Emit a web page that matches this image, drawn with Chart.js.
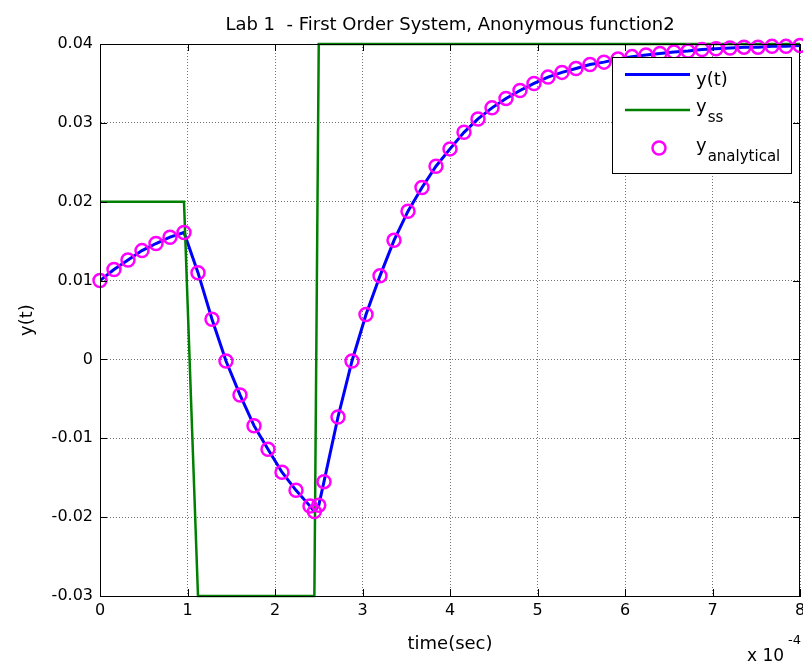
<!DOCTYPE html>
<html>
<head>
<meta charset="utf-8">
<title>Lab 1 - First Order System</title>
<script src="https://cdn.jsdelivr.net/npm/chart.js@4.4.1/dist/chart.umd.min.js"></script>
<style>
  html, body { margin: 0; padding: 0; background: #fff; overflow: hidden; }
  #wrap { width: 803px; height: 663px; overflow: hidden; }
  #inner { width: 840px; height: 663px; }
</style>
</head>
<body>
<div id="wrap"><div id="inner"><canvas id="chart" width="803" height="663"></canvas></div></div>
<script>
// time in units of 1e-4 s (axis shows "x 10^-4")
const timeVals = [0, 0.16, 0.32, 0.48, 0.64, 0.80, 0.96, 1.12, 1.28, 1.44,
    1.60, 1.76, 1.92, 2.08, 2.24, 2.40, 2.45, 2.50, 2.56, 2.72,
    2.88, 3.04, 3.20, 3.36, 3.52, 3.68, 3.84, 4.00, 4.16, 4.32,
    4.48, 4.64, 4.80, 4.96, 5.12, 5.28, 5.44, 5.60, 5.76, 5.92,
    6.08, 6.24, 6.40, 6.56, 6.72, 6.88, 7.04, 7.20, 7.36, 7.52,
    7.68, 7.84, 8.00];

// simulated output y(t)
const yOut = [0.0100, 0.0114, 0.0126, 0.0138, 0.0147, 0.0155, 0.0161, 0.0110, 0.0051, -0.0002,
    -0.0045, -0.0084, -0.0114, -0.0143, -0.0166, -0.0186, -0.0193, -0.0185, -0.0155, -0.0073,
    -0.0002, 0.0057, 0.0106, 0.0151, 0.0188, 0.0218, 0.0245, 0.0267, 0.0288, 0.0305,
    0.0319, 0.0331, 0.0341, 0.0350, 0.0358, 0.0364, 0.0369, 0.0374, 0.0377, 0.0381,
    0.0384, 0.0386, 0.0388, 0.0390, 0.0391, 0.0393, 0.0394, 0.0395, 0.0396, 0.0396,
    0.0397, 0.0397, 0.0398];

// analytical solution (circles), sits on top of y(t)
const yAnalytical = [0.0100, 0.0114, 0.0126, 0.0138, 0.0147, 0.0155, 0.0161, 0.0110, 0.0051, -0.0002,
    -0.0045, -0.0084, -0.0114, -0.0143, -0.0166, -0.0186, -0.0193, -0.0185, -0.0155, -0.0073,
    -0.0002, 0.0057, 0.0106, 0.0151, 0.0188, 0.0218, 0.0245, 0.0267, 0.0288, 0.0305,
    0.0319, 0.0331, 0.0341, 0.0350, 0.0358, 0.0364, 0.0369, 0.0374, 0.0377, 0.0381,
    0.0384, 0.0386, 0.0388, 0.0390, 0.0391, 0.0393, 0.0394, 0.0395, 0.0396, 0.0396,
    0.0397, 0.0397, 0.0398];

// steady state input y_ss
const ySS = [0.02, 0.02, 0.02, 0.02, 0.02, 0.02, 0.02, -0.03, -0.03, -0.03,
    -0.03, -0.03, -0.03, -0.03, -0.03, -0.03, -0.03, 0.04, 0.04, 0.04,
    0.04, 0.04, 0.04, 0.04, 0.04, 0.04, 0.04, 0.04, 0.04, 0.04,
    0.04, 0.04, 0.04, 0.04, 0.04, 0.04, 0.04, 0.04, 0.04, 0.04,
    0.04, 0.04, 0.04, 0.04, 0.04, 0.04, 0.04, 0.04, 0.04, 0.04,
    0.04, 0.04, 0.04];

const xTicks = [0, 1, 2, 3, 4, 5, 6, 7, 8];
const xTickLabels = ['0', '1', '2', '3', '4', '5', '6', '7', '8'];
const yTicks = [-0.03, -0.02, -0.01, 0, 0.01, 0.02, 0.03, 0.04];
const yTickLabels = ['-0.03', '-0.02', '-0.01', '0', '0.01', '0.02', '0.03', '0.04'];

const FONT = '"DejaVu Sans", "Liberation Sans", Arial, sans-serif';
const BLUE = '#0000ff';
const GREEN = '#008000';
const MAGENTA = '#ff00ff';

function toPoints(xs, ys) {
    return xs.map((t, i) => ({ x: t, y: ys[i] }));
}

// box, inward ticks, title, labels and legend (matlab look)
const decorPlugin = {
    id: 'decor',
    afterDraw(chart) {
        const { ctx, chartArea: a, scales: { x, y } } = chart;
        ctx.save();

        // axes box
        ctx.strokeStyle = '#000';
        ctx.lineWidth = 1;
        ctx.strokeRect(a.left + 0.5, a.top + 0.5, a.right - a.left - 1, a.bottom - a.top);

        // ticks pointing inside
        ctx.beginPath();
        xTicks.forEach(v => {
            const px = Math.round(x.getPixelForValue(v)) + 0.5;
            ctx.moveTo(px, a.bottom); ctx.lineTo(px, a.bottom - 7);
            ctx.moveTo(px, a.top); ctx.lineTo(px, a.top + 7);
        });
        yTicks.forEach(v => {
            const py = Math.round(y.getPixelForValue(v)) + 0.5;
            ctx.moveTo(a.left, py); ctx.lineTo(a.left + 7, py);
            ctx.moveTo(a.right, py); ctx.lineTo(a.right - 7, py);
        });
        ctx.stroke();

        ctx.fillStyle = '#000';
        ctx.textBaseline = 'alphabetic';

        // title
        ctx.font = '18px ' + FONT;
        ctx.textAlign = 'center';
        ctx.fillText('Lab 1  - First Order System, Anonymous function2', (a.left + a.right) / 2, 30);

        // x label
        ctx.fillText('time(sec)', (a.left + a.right) / 2, 649);

        // y label
        ctx.save();
        ctx.translate(27, (a.top + a.bottom) / 2);
        ctx.rotate(-Math.PI / 2);
        ctx.textBaseline = 'middle';
        ctx.fillText('y(t)', 0, 0);
        ctx.restore();

        // exponent
        ctx.textAlign = 'left';
        ctx.font = '17px ' + FONT;
        ctx.fillText('x 10', 747, 661);
        ctx.font = '13px ' + FONT;
        ctx.fillText('-4', 788, 644);

        // legend
        const lx = 612, ly = 57, lw = 179, lh = 116;
        ctx.fillStyle = '#fff';
        ctx.fillRect(lx, ly, lw, lh);
        ctx.strokeStyle = '#000';
        ctx.lineWidth = 1;
        ctx.strokeRect(lx + 0.5, ly + 0.5, lw, lh);

        ctx.lineWidth = 3;
        ctx.strokeStyle = BLUE;
        ctx.beginPath(); ctx.moveTo(625, 74.5); ctx.lineTo(690, 74.5); ctx.stroke();
        ctx.lineWidth = 2.5;
        ctx.strokeStyle = GREEN;
        ctx.beginPath(); ctx.moveTo(625, 110); ctx.lineTo(690, 110); ctx.stroke();
        ctx.strokeStyle = MAGENTA;
        ctx.beginPath(); ctx.arc(659, 148, 6.5, 0, Math.PI * 2); ctx.stroke();

        ctx.fillStyle = '#000';
        ctx.font = '18px ' + FONT;
        ctx.fillText('y(t)', 696, 85);
        ctx.fillText('y', 696, 112);
        let w = ctx.measureText('y').width;
        ctx.fillText('y', 696, 151);
        ctx.font = '15px ' + FONT;
        ctx.fillText('ss', 696 + w + 1, 121.5);
        ctx.fillText('analytical', 696 + w + 1, 160.5);

        ctx.restore();
    }
};

const canvas = document.getElementById('chart');

function buildChart(canvasWidth) {
    canvas.width = canvasWidth;
    canvas.height = 663;
    canvas.style.width = canvasWidth + 'px';
    canvas.style.height = '663px';
    return new Chart(canvas.getContext('2d'), {
        type: 'scatter',
        data: {
            datasets: [
                {
                    label: 'y(t)',
                    data: toPoints(timeVals, yOut),
                    showLine: true,
                    borderColor: BLUE,
                    borderWidth: 3,
                    pointRadius: 0,
                    tension: 0,
                    order: 3
                },
                {
                    label: 'y_ss',
                    data: toPoints(timeVals, ySS),
                    showLine: true,
                    borderColor: GREEN,
                    borderWidth: 2.5,
                    pointRadius: 0,
                    tension: 0,
                    clip: false,
                    order: 2
                },
                {
                    label: 'y_analytical',
                    data: toPoints(timeVals, yAnalytical),
                    showLine: false,
                    pointStyle: 'circle',
                    pointRadius: 6.5,
                    pointBorderWidth: 2.5,
                    pointBorderColor: MAGENTA,
                    pointBackgroundColor: 'rgba(0,0,0,0)',
                    clip: false,
                    order: 1
                }
            ]
        },
        options: {
            responsive: false,
            devicePixelRatio: 1,
            animation: false,
            events: [],
            layout: { padding: { top: 44, right: 3, left: 0, bottom: 0 } },
            plugins: {
                legend: { display: false },
                tooltip: { enabled: false },
                title: { display: false }
            },
            scales: {
                x: {
                    type: 'linear',
                    min: 0,
                    max: 8,
                    afterBuildTicks: scale => { scale.ticks = xTicks.map(v => ({ value: v })); },
                    afterFit: scale => {
                        scale.height = 67;
                        scale.paddingLeft = 0;
                        scale.paddingRight = 0;
                    },
                    ticks: {
                        callback: (v, i) => xTickLabels[i],
                        font: { family: FONT, size: 16 },
                        color: '#000',
                        padding: 5,
                        maxRotation: 0
                    },
                    grid: { color: 'rgba(0,0,0,0.55)', lineWidth: 1, drawTicks: false },
                    border: { display: true, color: '#000', width: 1, dash: [1, 2] }
                },
                y: {
                    type: 'linear',
                    min: -0.03,
                    max: 0.04,
                    afterBuildTicks: scale => { scale.ticks = yTicks.map(v => ({ value: v })); },
                    afterFit: scale => {
                        scale.width = 100;
                        scale.paddingTop = 0;
                        scale.paddingBottom = 0;
                    },
                    ticks: {
                        callback: (v, i) => yTickLabels[i],
                        font: { family: FONT, size: 16 },
                        color: '#000',
                        padding: 7
                    },
                    grid: { color: 'rgba(0,0,0,0.55)', lineWidth: 1, drawTicks: false },
                    border: { display: true, color: '#000', width: 1, dash: [1, 2] }
                }
            }
        },
        plugins: [decorPlugin]
    });
}

// the axes should end at x=800 like the reference; widen the canvas if the
// last tick label pushed the plot area in (the window clips the extra)
let chart = buildChart(803);
const dx = Math.round(800 - chart.chartArea.right);
if (dx > 0) {
    chart.destroy();
    chart = buildChart(803 + dx);
}
</script>
</body>
</html>
